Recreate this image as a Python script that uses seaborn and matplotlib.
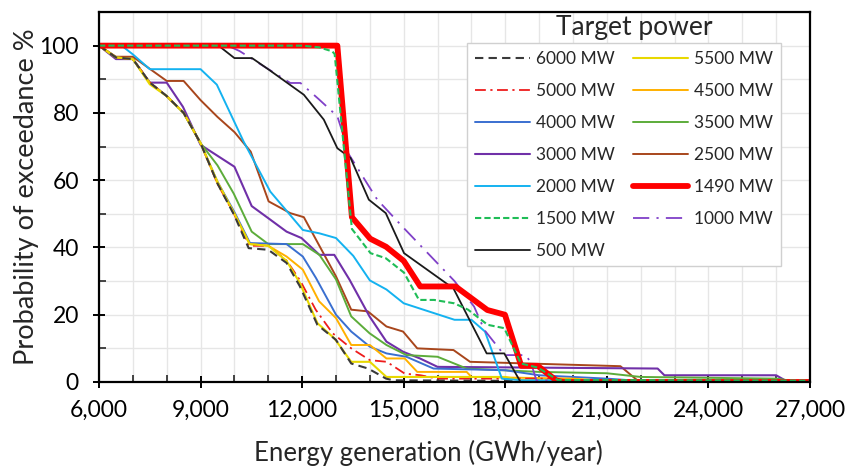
import matplotlib
matplotlib.use("Agg")
import matplotlib.pyplot as plt
import seaborn as sns
import pandas as pd
from matplotlib.ticker import MultipleLocator, FuncFormatter

sns.set_theme(style="white")
plt.rcParams['font.family'] = ['Lato', 'DejaVu Sans']

# ---- data (energy GWh/year, exceedance %) ----
x_6000 = [6000, 6500, 7000, 7500, 8000, 8500, 9000, 9500, 10000, 10420, 11000, 11540, 11930, 12450, 13000, 13450, 13950, 14480, 14700, 19000, 27000]
y_6000 = [100, 96.5, 96, 89, 85, 80, 71, 59, 49.5, 39.8, 39.3, 35.4, 28.5, 17, 12.5, 5.5, 4, 1, 0.5, 0.3, 0.2]

x_5500 = [6000, 6500, 7000, 7500, 8000, 8500, 9000, 9500, 10000, 10450, 11000, 11540, 11930, 12450, 12950, 13450, 14000, 14490, 18000, 18500, 27000]
y_5500 = [100, 96.5, 96, 88.5, 85, 80, 71, 59.5, 50, 41, 40.5, 36, 29.5, 17.5, 13, 6, 6, 1.5, 1.5, 0.5, 0.3]

x_5000 = [6000, 6500, 7000, 7500, 8000, 8500, 9000, 9500, 10000, 10430, 11000, 11550, 11950, 12400, 12900, 13450, 14000, 14500, 15030, 15500, 16000, 19500, 20000, 27000]
y_5000 = [100, 96.5, 96, 89, 85, 80, 71, 59, 49.7, 40.5, 40.5, 36, 30, 21.5, 14.5, 10, 6.5, 6, 2.5, 2, 1, 1, 0.2, 0.2]

x_4500 = [6000, 6500, 7000, 7500, 8000, 8500, 9000, 9500, 10000, 10450, 11000, 11540, 12020, 12500, 13000, 13450, 14000, 14490, 15030, 15400, 16860, 17000, 20000, 21000, 27000]
y_4500 = [100, 96.5, 96, 89, 85, 80, 71, 59, 50, 41, 40.5, 37.3, 33.4, 24, 19, 11, 11, 7, 7, 3, 3, 1.5, 1, 0.3, 0.3]

x_4000 = [6000, 6500, 7000, 7500, 8000, 8500, 9000, 9500, 10000, 10460, 11540, 12020, 12410, 13000, 13450, 14000, 14490, 15080, 15880, 18000, 19000, 21000, 22000, 27000]
y_4000 = [100, 96.5, 96, 89, 85, 80, 71, 59.5, 50.5, 41.3, 41, 37.3, 30.9, 20, 15, 10.5, 8.5, 7.5, 4, 3.5, 2, 1, 0.3, 0.3]

x_3500 = [6000, 6500, 7000, 7500, 8000, 8500, 9000, 9500, 9980, 10510, 11000, 12020, 12510, 13000, 13450, 13990, 14490, 15080, 16000, 16860, 19000, 21000, 22000, 26000, 26500, 27000]
y_3500 = [100, 96.5, 96, 89, 85, 80, 71, 64.4, 56, 44.7, 41, 41, 37.8, 30.5, 19.5, 14.5, 11, 8, 7.5, 4, 3, 2.6, 1.5, 1, 0.3, 0.3]

x_3000 = [6000, 6500, 7000, 7500, 8000, 8480, 9000, 10000, 10510, 11000, 11540, 11980, 12510, 12950, 13400, 13990, 14490, 14980, 15480, 16000, 22500, 22700, 26000, 26300, 27000]
y_3000 = [100, 96, 96, 89, 89, 81.8, 70.5, 64, 52.3, 48.7, 44.7, 42.8, 37.8, 37.8, 30.4, 19.5, 12, 9, 7, 4.5, 4, 2, 2, 0.3, 0.3]

x_2500 = [6000, 6500, 7000, 8000, 8500, 9000, 9500, 10000, 10480, 11010, 11650, 12050, 13000, 13450, 13940, 14490, 14980, 15400, 16470, 16960, 21400, 21900, 27000]
y_2500 = [100, 96.7, 96.7, 89.5, 89.5, 83.8, 78.8, 74.3, 68.5, 53.7, 50.2, 49, 31.4, 21.5, 21, 16.5, 15, 10, 9.5, 6, 4.7, 0.5, 0.3]

x_2000 = [6000, 6670, 7000, 7500, 9000, 9480, 10270, 11060, 12020, 12510, 13000, 13510, 14000, 14490, 15000, 16040, 16500, 17000, 17400, 17900, 18500, 27000]
y_2000 = [100, 100, 97.4, 93, 93, 88.4, 71.5, 56.6, 45.2, 44.2, 42.8, 37.5, 30.2, 27.5, 23.4, 20, 18.5, 18.5, 15, 1, 0.5, 0.3]

x_1490 = [6000, 13040, 13470, 14010, 14480, 15000, 15490, 16530, 17470, 17990, 18470, 18960, 19500, 19700, 27000]
y_1490 = [100, 100, 49, 42.6, 40.2, 36, 28.4, 28.4, 21.4, 20, 4.8, 4.8, 0.5, 0, 0]

x_1500 = [6000, 12000, 12500, 12890, 12960, 13470, 14020, 14470, 15010, 15450, 15900, 16490, 16900, 17480, 17970, 18460, 18960, 19550, 27000]
y_1500 = [100, 100, 99.5, 98.3, 97.5, 45.5, 38.3, 36.8, 32.5, 24.4, 24.4, 23.4, 21.5, 17, 16, 5.5, 4.3, 0.6, 0.4]

x_1000 = [6000, 9800, 10150, 10340, 11650, 11950, 12500, 13040, 13230, 13360, 14220, 14980, 16500, 17080, 17380, 17970, 18610, 18760, 18920, 27000]
y_1000 = [100, 100, 98.4, 97.2, 88.9, 88.9, 84, 79, 73, 68, 54.2, 46, 30, 22.4, 15.5, 8, 8, 5.6, 0.5, 0.3]

x_500 = [6000, 9530, 10000, 10520, 11010, 12050, 12640, 13040, 13430, 13970, 14470, 15010, 16470, 17450, 17970, 18450, 27000]
y_500 = [100, 100, 96.3, 96.3, 92.9, 85.4, 78, 69.5, 66.6, 54.2, 50.2, 38.3, 27.8, 8.5, 8.5, 0, 0]

labels = ["6000 MW", "5500 MW", "5000 MW", "4500 MW", "4000 MW", "3500 MW", "3000 MW",
          "2500 MW", "2000 MW", "1490 MW", "1500 MW", "1000 MW", "500 MW"]
xs = [x_6000, x_5500, x_5000, x_4500, x_4000, x_3500, x_3000, x_2500, x_2000, x_1490, x_1500, x_1000, x_500]
ys = [y_6000, y_5500, y_5000, y_4500, y_4000, y_3500, y_3000, y_2500, y_2000, y_1490, y_1500, y_1000, y_500]

styles = {
    "6000 MW": dict(color="#3a3a3a", lw=1.5, dashes=(4, 2.5)),
    "5500 MW": dict(color="#e8d800", lw=1.5, dashes=None),
    "5000 MW": dict(color="#ee1c1c", lw=1.3, dashes=(6, 2.5, 1.2, 2.5)),
    "4500 MW": dict(color="#ffb000", lw=1.4, dashes=None),
    "4000 MW": dict(color="#3a6fd0", lw=1.4, dashes=None),
    "3500 MW": dict(color="#5cac3a", lw=1.4, dashes=None),
    "3000 MW": dict(color="#7030a8", lw=1.5, dashes=None),
    "2500 MW": dict(color="#a8461c", lw=1.4, dashes=None),
    "2000 MW": dict(color="#14b2f0", lw=1.4, dashes=None),
    "1490 MW": dict(color="#ff0000", lw=4.2, dashes=None),
    "1500 MW": dict(color="#1fbd57", lw=1.5, dashes=(3, 1.5)),
    "1000 MW": dict(color="#8040c8", lw=1.3, dashes=(9, 4, 1.2, 4)),
    "500 MW": dict(color="#1a1a1a", lw=1.3, dashes=None),
}

df = pd.concat([pd.DataFrame({"x": x, "y": y, "series": lab}) for x, y, lab in zip(xs, ys, labels)],
               ignore_index=True)

fig = plt.figure(figsize=(8.47, 4.66), dpi=100)
ax = fig.add_axes([99 / 847, 84 / 466, 711 / 847, 370 / 466])

draw_order = ["2500 MW", "3000 MW", "3500 MW", "4000 MW", "4500 MW", "5000 MW", "5500 MW",
              "6000 MW", "2000 MW", "1000 MW", "500 MW", "1490 MW", "1500 MW"]
handles = {}
for lab in draw_order:
    st = styles[lab]
    sub = df[df["series"] == lab]
    sns.lineplot(data=sub, x="x", y="y", ax=ax, sort=False, estimator=None,
                 color=st["color"], linewidth=st["lw"], label=lab, legend=False)
    line = ax.get_lines()[-1]
    if st["dashes"] is not None:
        line.set_dashes(st["dashes"])
    handles[lab] = line

ax.set_xlim(6000, 27000)
ax.set_ylim(0, 110)
ax.xaxis.set_major_locator(MultipleLocator(3000))
ax.xaxis.set_minor_locator(MultipleLocator(1000))
ax.yaxis.set_major_locator(MultipleLocator(20))
ax.yaxis.set_minor_locator(MultipleLocator(10))
ax.xaxis.set_major_formatter(FuncFormatter(lambda v, p: f"{int(v):,}"))
ax.set_yticks([0, 20, 40, 60, 80, 100])

ax.grid(True, which="both", color="#e6e6e6", linewidth=1.0)
ax.set_axisbelow(True)
for s in ax.spines.values():
    s.set_color("black")
    s.set_linewidth(1.6)
ax.tick_params(axis="both", which="major", direction="inout", length=9, width=1.4,
               labelsize=16.5, colors="black", bottom=True, left=True)
ax.tick_params(axis="x", which="major", pad=8)
ax.tick_params(axis="y", which="major", pad=10)
ax.tick_params(axis="x", which="minor", direction="in", length=5, width=1.2, bottom=True)
ax.tick_params(axis="y", which="minor", direction="in", length=5, width=1.2, left=True)

ax.set_xlabel("Energy generation (GWh/year)", fontsize=18.5, labelpad=14)
ax.xaxis.label.set_x((428 - 99) / 711)
ax.set_ylabel("Probability of exceedance %", fontsize=19.5, labelpad=0)

order = ["6000 MW", "5000 MW", "4000 MW", "3000 MW", "2000 MW", "1500 MW", "500 MW",
         "5500 MW", "4500 MW", "3500 MW", "2500 MW", "1490 MW", "1000 MW"]
leg = ax.legend([handles[l] for l in order], order, ncol=2, loc="upper left",
                bbox_to_anchor=((467 - 99) / 711, (382 - 43) / 370), borderaxespad=0,
                fontsize=12.5, frameon=True, fancybox=False, framealpha=1,
                edgecolor="#d0d0d0", handlelength=3.2, handletextpad=0.35,
                columnspacing=1.0, labelspacing=0.92, borderpad=0.45)
leg.get_frame().set_linewidth(1.0)

fig.text(634 / 847, 1 - 28 / 466, "Target power", fontsize=19, ha="center", va="center")

fig.savefig("out.png", dpi=100)
